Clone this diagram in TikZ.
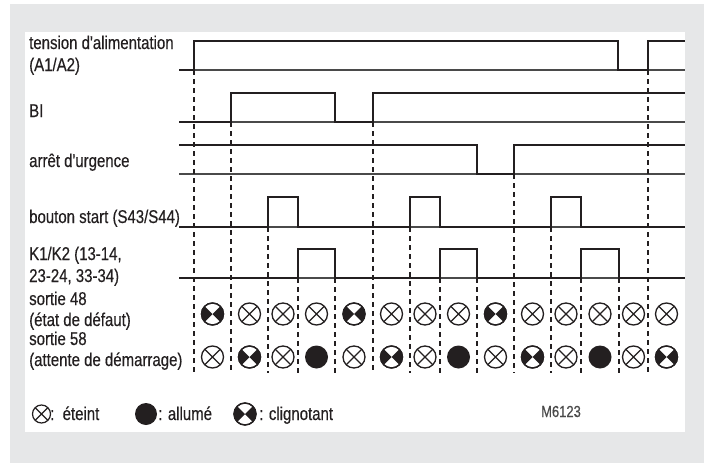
\documentclass[tikz,border=0pt]{standalone}
\usepackage{fontspec}
\setmainfont{Liberation Sans}
\newfontfamily\cond[FakeStretch=0.81,FakeBold=0.35]{Liberation Sans}
\definecolor{ink}{HTML}{231F20}
\definecolor{thinc}{HTML}{4A4A4A}
\definecolor{bggray}{HTML}{E6E7E8}
\definecolor{codec}{HTML}{4A4A4A}
\begin{document}
\begin{tikzpicture}[x=1pt,y=-1pt,
  sig/.style={line width=2.5pt, draw=ink, line join=miter},
  baseln/.style={line width=1.1pt, draw=thinc},
  dsh/.style={line width=1.1pt, draw=ink, dash pattern=on 5pt off 4pt},
  lbl/.style={anchor=base west, inner sep=0pt, font=\cond\fontsize{18.5}{21}\selectfont, text=ink},
  lampo/.pic={
    \draw[fill=white, line width=1.3pt, draw=ink] (0,0) circle (11pt);
    \draw[line width=1.3pt, draw=ink] (45:11pt) -- (225:11pt) (135:11pt) -- (-45:11pt);
  },
  lampn/.pic={
    \fill[ink] (0,0) circle (11.5pt);
  },
  lampb/.pic={
    \draw[fill=white, line width=1.3pt, draw=ink] (0,0) circle (11pt);
    \fill[ink] (0,0) -- (135:11pt) arc (135:225:11pt) -- cycle;
    \fill[ink] (0,0) -- (-45:11pt) arc (-45:45:11pt) -- cycle;
    \draw[line width=1.3pt, draw=ink] (0,0) circle (11pt);
  },
  smallo/.pic={
    \draw[fill=white, line width=1.2pt, draw=ink] (0,0) circle (9pt);
    \draw[line width=1.2pt, draw=ink] (45:9pt) -- (225:9pt) (135:9pt) -- (-45:9pt);
  },
]
\useasboundingbox (0,0) rectangle (704,463);
\fill[white] (0,0) rectangle (704,463);
\fill[bggray] (10,4) rectangle (704,463);
\fill[white] (25,32) rectangle (685,432);

% thin baselines
\foreach \y in {70,122,174,227,278} \draw[baseln] (179,\y) -- (685,\y);

% dashed markers
\foreach \x/\y in {194/70, 231/122, 268/227, 298/278, 335/278, 373/122, 410/227,
                   440/278, 477/278, 514/174, 551/227, 581/278, 619/278, 648/70}
  \draw[dsh] (\x,\y) -- (\x,373);

% signals
\draw[sig] (179,70) -- (194,70) -- (194,41) -- (618,41) -- (618,70) -- (648,70) -- (648,41) -- (685,41);
\draw[sig] (179,122) -- (231,122) -- (231,93) -- (335,93) -- (335,122) -- (373,122) -- (373,93) -- (685,93);
\draw[sig] (179,145) -- (477,145) -- (477,174) -- (514,174) -- (514,145) -- (685,145);
\draw[sig] (179,227) -- (268,227) -- (268,197) -- (298,197) -- (298,227) -- (410,227) -- (410,197) -- (440,197)
  -- (440,227) -- (551,227) -- (551,197) -- (581,197) -- (581,227) -- (685,227);
\draw[sig] (179,278) -- (298,278) -- (298,249) -- (335,249) -- (335,278) -- (440,278) -- (440,249) -- (477,249)
  -- (477,278) -- (581,278) -- (581,249) -- (619,249) -- (619,278) -- (685,278);

% lamps
\foreach \x/\a/\b in {212.5/b/o, 249.5/o/b, 283/o/o, 316.5/o/n, 354/b/o, 391.5/o/b, 425/o/o,
                      458.5/o/n, 495.5/b/o, 532.5/o/b, 566/o/o, 600/o/n, 633.5/o/o, 666.5/o/b}{
  \pic at (\x,314) {lamp\a};
  \pic at (\x,357) {lamp\b};
}

% labels
\node[lbl] (l1a) at (29,49) {tension d'alimentation};
\node[lbl] (l1b) at (29,71) {(A1/A2)};
\node[lbl] (l2) at (29,117) {BI};
\node[lbl] (l3) at (29,167) {arrêt d'urgence};
\node[lbl] (l4) at (29,223) {bouton start (S43/S44)};
\node[lbl] (l5a) at (29,260) {K1/K2 (13-14,};
\node[lbl] (l5b) at (29,282) {23-24, 33-34)};
\node[lbl] (l6a) at (29,305) {sortie 48};
\node[lbl] (l6b) at (29,326) {(état de défaut)};
\node[lbl] (l7a) at (29,345) {sortie 58};
\node[lbl] (l7b) at (29,366) {(attente de démarrage)};

% legend
\pic at (41.5,414) {smallo};
\node[lbl] (lg1) at (50,420) {:\ \ éteint};
\fill[ink] (146,414) circle (11pt);
\node[lbl] (lg2) at (158,420) {: allumé};
\pic at (245,414) {lampb};
\node[lbl] (lg3) at (259,420) {: clignotant};
\node[anchor=base west, inner sep=0pt, font=\cond\fontsize{16}{18}\selectfont, text=codec] (code) at (541,417) {M6123};
\end{tikzpicture}
\end{document}
